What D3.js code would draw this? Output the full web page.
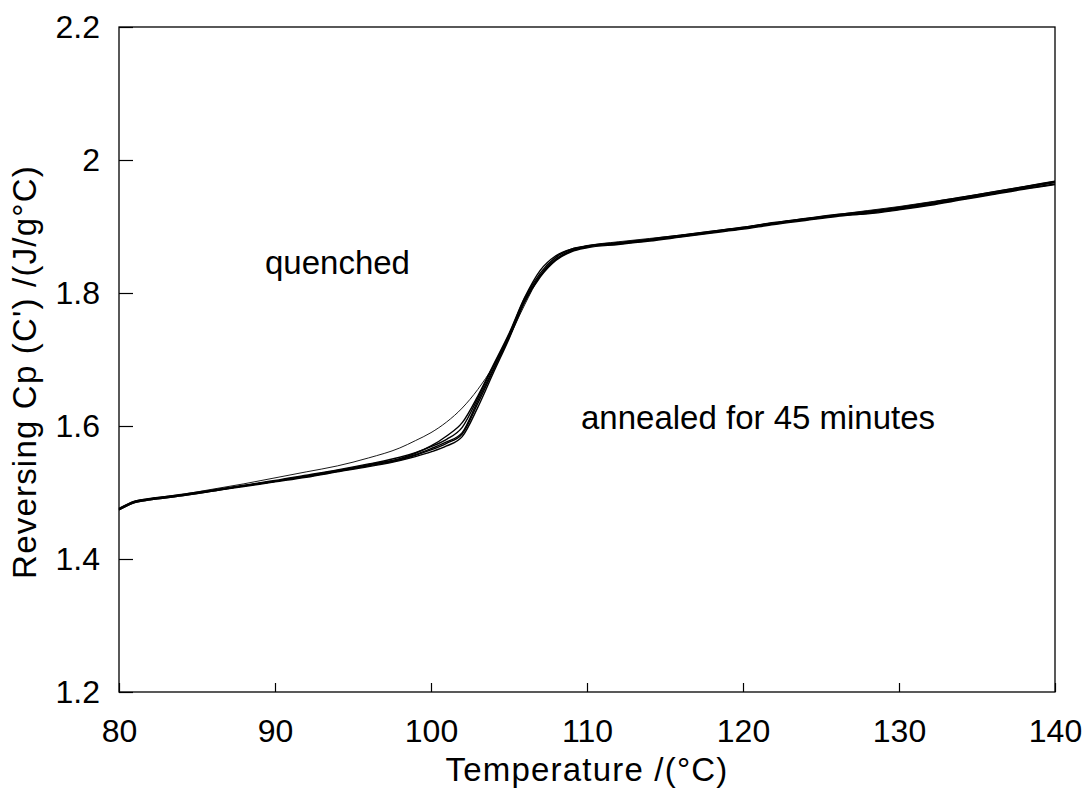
<!DOCTYPE html>
<html><head><meta charset="utf-8">
<script src="https://cdn.jsdelivr.net/npm/d3@7"></script>
<style>body{margin:0;background:#fff;} text{font-family:"Liberation Sans",Arial,sans-serif;fill:#000;}</style>
</head><body>
<svg id="c" width="1085" height="791"></svg>
<script>
const temps = [80,81,82,84,86,88,90,92,94,96,98,99,100,101,102,103,104,105,106,107,108,109,110,112,114,116,118,120,122,124,126,128,130,132,134,136,138,140];
const cpQuenched = [1.476,1.487,1.491,1.497,1.505,1.513,1.522,1.531,1.540,1.552,1.567,1.578,1.590,1.606,1.627,1.655,1.690,1.733,1.782,1.826,1.853,1.865,1.871,1.877,1.882,1.887,1.893,1.899,1.906,1.912,1.918,1.924,1.930,1.937,1.944,1.952,1.960,1.968];
const cpAnneal1 = [1.475,1.486,1.490,1.496,1.503,1.510,1.517,1.524,1.532,1.541,1.550,1.557,1.566,1.576,1.590,1.638,1.686,1.733,1.789,1.826,1.850,1.863,1.869,1.874,1.879,1.885,1.891,1.897,1.904,1.910,1.916,1.921,1.927,1.934,1.942,1.950,1.958,1.966];
const cpAnneal2 = [1.474,1.485,1.489,1.495,1.502,1.509,1.516,1.523,1.531,1.539,1.548,1.554,1.561,1.570,1.584,1.628,1.680,1.731,1.786,1.824,1.849,1.862,1.868,1.873,1.878,1.884,1.890,1.896,1.903,1.909,1.915,1.920,1.926,1.933,1.941,1.949,1.957,1.964];
const cpAnneal3 = [1.476,1.487,1.491,1.497,1.504,1.511,1.518,1.526,1.534,1.543,1.553,1.560,1.569,1.580,1.598,1.642,1.690,1.737,1.792,1.830,1.854,1.866,1.871,1.876,1.881,1.887,1.893,1.899,1.906,1.912,1.918,1.923,1.929,1.936,1.944,1.952,1.960,1.968];
const cpAnneal4 = [1.475,1.486,1.490,1.496,1.503,1.510,1.517,1.524,1.532,1.540,1.549,1.556,1.564,1.574,1.588,1.634,1.684,1.735,1.788,1.827,1.851,1.864,1.870,1.875,1.880,1.886,1.892,1.898,1.905,1.911,1.917,1.919,1.925,1.932,1.940,1.948,1.956,1.963];
const cpAnneal5 = [1.474,1.485,1.489,1.495,1.502,1.510,1.517,1.525,1.533,1.542,1.551,1.559,1.570,1.585,1.605,1.645,1.692,1.739,1.793,1.834,1.856,1.866,1.870,1.875,1.880,1.886,1.892,1.898,1.905,1.911,1.917,1.922,1.928,1.935,1.943,1.951,1.959,1.967];
const seriesList = [cpQuenched, cpAnneal1, cpAnneal2, cpAnneal3, cpAnneal4, cpAnneal5];
const xTicks = [80,90,100,110,120,130,140];
const yTicks = [1.2,1.4,1.6,1.8,2.0,2.2];
const yTickLabels = ["1.2","1.4","1.6","1.8","2","2.2"];

const L=119, R=1055, T=27, B=692;
const svg = d3.select("#c");
const x = d3.scaleLinear().domain([80,140]).range([L,R]);
const y = d3.scaleLinear().domain([1.2,2.2]).range([B,T]);

svg.append("rect").attr("x",L).attr("y",T).attr("width",R-L).attr("height",B-T)
  .attr("fill","none").attr("stroke","#000").attr("stroke-width",1.3);

const xa = svg.append("g").attr("transform",`translate(0,${B})`)
  .call(d3.axisBottom(x).tickValues(xTicks).tickSize(-9).tickPadding(27).tickFormat(d3.format("d")));
const ya = svg.append("g").attr("transform",`translate(${L},0)`)
  .call(d3.axisLeft(y).tickValues(yTicks).tickSize(-14).tickPadding(19).tickFormat((d,i)=>yTickLabels[i]));
[xa,ya].forEach(g=>{
  g.select(".domain").remove();
  g.selectAll("line").attr("stroke","#000").attr("stroke-width",1.2);
  g.selectAll("text").attr("font-size",32).attr("font-family","Liberation Sans, Arial, sans-serif").attr("fill","#000");
});

const line = d3.line().x((d,i)=>x(temps[i])).y(d=>y(d)).curve(d3.curveMonotoneX);
svg.append("g").selectAll("path").data(seriesList).join("path")
  .attr("d",line).attr("fill","none").attr("stroke","#000")
  .attr("stroke-width",(d,i)=>i===0?0.9:1.4);

svg.append("text").attr("x",265).attr("y",274).attr("font-size",33).text("quenched");
svg.append("text").attr("x",581).attr("y",429).attr("font-size",33).text("annealed for 45 minutes");

svg.append("text").attr("x",(L+R)/2).attr("y",781).attr("text-anchor","middle").attr("font-size",33).attr("letter-spacing",1.2).text("Temperature /(°C)");
svg.append("text").attr("transform",`translate(36,372) rotate(-90)`).attr("text-anchor","middle").attr("font-size",33).attr("letter-spacing",1.2).text("Reversing Cp (C') /(J/g°C)");
</script>
</body></html>
